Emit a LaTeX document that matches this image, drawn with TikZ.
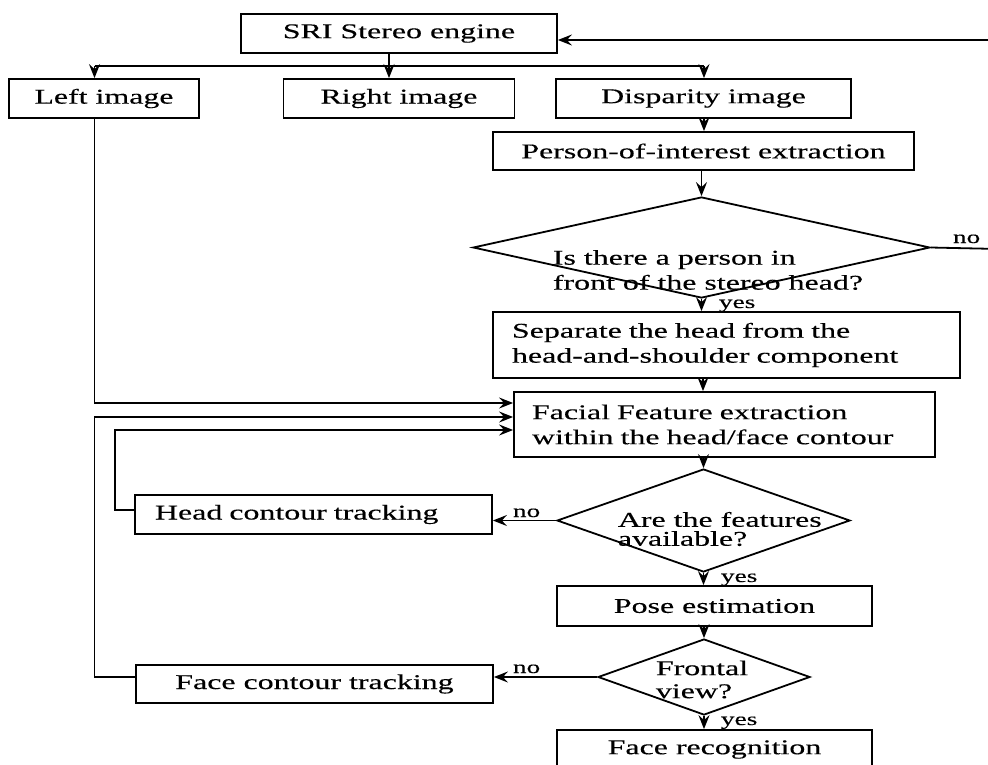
\documentclass[tikz,border=0pt]{standalone}
\usepackage{fontspec}
\setmainfont[FakeStretch=1.52,FakeBold=0.3]{Liberation Serif}
\usetikzlibrary{shapes.geometric,arrows.meta}
\begin{document}
\begin{tikzpicture}[x=1pt,y=-1pt,
  line width=1.8pt,
  box/.style={draw, rectangle, inner sep=0pt, font=\fontsize{21}{25}\selectfont},
  dia/.style={draw, diamond, inner sep=0pt},
  dtext/.style={anchor=west, align=left, inner sep=0pt},
  lbl/.style={font=\fontsize{18}{20}\selectfont, inner sep=0pt, anchor=base west},
  arr/.style={-{Stealth[length=14pt,width=11pt,inset=5pt]}}]
\useasboundingbox (0,0) rectangle (988,764);

% boxes
\node[box, minimum width=316pt, minimum height=39pt] (sri) at (399,33.5) {SRI Stereo engine};
\node[box, minimum width=190pt, minimum height=39pt] (left) at (104,98.5) {Left image};
\node[box, minimum width=231pt, minimum height=39pt] (right) at (399,98.5) {Right image};
\node[box, minimum width=295pt, minimum height=39pt] (disp) at (703.5,98.5) {Disparity image};
\node[box, minimum width=421pt, minimum height=38pt] (poi) at (703.5,151) {Person-of-interest extraction};
\node[dia, minimum width=457pt, minimum height=101pt] (d1) at (701.5,247.5) {};
\node[dtext, font={\fontsize{21}{25}\selectfont}] (d1t) at (552,270) {Is there a person in\\front of the stereo head?};
\node[box, minimum height=66pt, text width=429pt, inner xsep=19pt, align=left] (sep) at (726.5,345) {Separate the head from the\\head-and-shoulder component};
\node[box, minimum height=65pt, text width=385pt, inner xsep=18pt, align=left] (fac) at (724.5,424.5) {Facial Feature extraction\\within the head/face contour};
\node[dia, minimum width=293pt, minimum height=103pt] (d2) at (703.5,520.5) {};
\node[dtext, font={\fontsize{21}{19}\selectfont}] (d2t) at (617,529) {Are the features\\available?};
\node[box, minimum height=39pt, text width=317pt, inner xsep=20pt, align=left] (head) at (313.5,514.5) {Head contour tracking};
\node[box, minimum width=315pt, minimum height=40pt] (pose) at (714.5,606) {Pose estimation};
\node[dia, minimum width=212pt, minimum height=76pt] (d3) at (704,677) {};
\node[dtext, font={\fontsize{21}{23}\selectfont}] (d3t) at (655,679.5) {Frontal\\view?};
\node[box, minimum width=357pt, minimum height=38pt] (fct) at (314.5,684) {Face contour tracking};
\node[box, minimum width=315pt, minimum height=39pt] (frec) at (714.5,749.5) {Face recognition};

% helper coordinates
\coordinate (bus) at (389,66);
\coordinate (bl) at (94.5,66);
\coordinate (br) at (704,66);
\coordinate (cx) at (703,0);
\coordinate (ne) at (1000,40);
\coordinate (ee) at (1000,249);
\coordinate (y1) at (0,403);
\coordinate (y2) at (0,417);
\coordinate (y3) at (0,430);
\coordinate (hy) at (115,510);

% connectors
\draw (sri.south -| bus) -- (bus);
\draw (bl) -- (br);
\draw[arr] (bl) -- (bl |- left.north);
\draw[arr] (bus) -- (bus |- right.north);
\draw[arr] (br) -- (br |- disp.north);
\draw[arr] (disp.south -| br) -- (poi.north -| br);
\draw[arr] (poi.south -| d1.north) -- (d1.north);
\draw[arr] (d1.south) -- (d1.south |- sep.north);
\draw[arr] (sep.south -| cx) -- (fac.north -| cx);
\draw[arr] (fac.south -| d2.north) -- (d2.north);
\draw[arr] (d2.south) -- (d2.south |- pose.north);
\draw[arr] (pose.south -| d3.north) -- (d3.north);
\draw[arr] (d3.south) -- (d3.south |- frec.north);
\draw[arr] (d2.west) -- (d2.west -| head.east);
\draw[arr] (d3.west) -- (d3.west -| fct.east);
\draw[arr] (d1.east) -- (ee) -- (ne) -- (ne -| sri.east);
\draw[arr] (left.south -| bl) |- (fac.west |- y1);
\draw[arr] (fct.west |- d3.west) -| (bl |- y2) -- (fac.west |- y2);
\draw[arr] (head.west |- hy) -- (hy) |- (fac.west |- y3);

% labels
\node[lbl] (n1) at (952,243) {no};
\node[lbl] (s1) at (718,308) {yes};
\node[lbl] (n2) at (512,517) {no};
\node[lbl] (s2) at (720,582) {yes};
\node[lbl] (n3) at (512,673) {no};
\node[lbl] (s3) at (720,725) {yes};
\end{tikzpicture}
\end{document}
